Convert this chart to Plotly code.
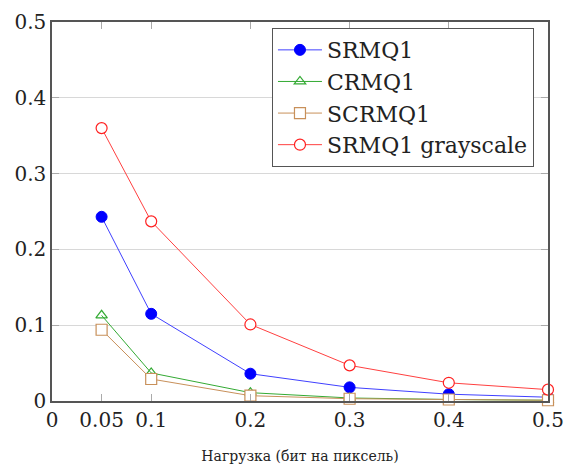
import plotly.graph_objects as go

x = [0.05, 0.1, 0.2, 0.3, 0.4, 0.5]
srmq1 = [0.243, 0.115, 0.036, 0.018, 0.009, 0.005]
crmq1 = [0.113, 0.037, 0.011, 0.004, 0.002, 0.001]
scrmq1 = [0.094, 0.029, 0.007, 0.003, 0.002, 0.001]
srmq1_gray = [0.360, 0.237, 0.101, 0.047, 0.024, 0.015]

xtick_vals = [0, 0.05, 0.1, 0.2, 0.3, 0.4, 0.5]
xtick_text = ["0", "0.05", "0.1", "0.2", "0.3", "0.4", "0.5"]
ytick_vals = [0, 0.1, 0.2, 0.3, 0.4, 0.5]
ytick_text = ["0", "0.1", "0.2", "0.3", "0.4", "0.5"]

font = "DejaVu Serif"

fig = go.Figure()
fig.add_trace(go.Scatter(x=x, y=srmq1, name="SRMQ1", mode="lines+markers",
                         line=dict(color="#4040ff", width=1),
                         marker=dict(symbol="circle", size=11, color="#0000ff",
                                     line=dict(color="#0000ff", width=1))))
fig.add_trace(go.Scatter(x=x, y=crmq1, name="CRMQ1", mode="lines+markers",
                         line=dict(color="#33aa33", width=1),
                         marker=dict(symbol="triangle-up-open", size=10, color="#33aa33",
                                     line=dict(width=1.2))))
fig.add_trace(go.Scatter(x=x, y=scrmq1, name="SCRMQ1", mode="lines+markers",
                         line=dict(color="#c8905a", width=1),
                         marker=dict(symbol="square", size=11, color="white",
                                     line=dict(color="#c8905a", width=1.2))))
fig.add_trace(go.Scatter(x=x, y=srmq1_gray, name="SRMQ1 grayscale", mode="lines+markers",
                         line=dict(color="#ff4040", width=1),
                         marker=dict(symbol="circle", size=11, color="white",
                                     line=dict(color="#ff2020", width=1.2))))
fig.update_traces(cliponaxis=False)

fig.update_layout(
    width=564, height=464,
    margin=dict(l=52, r=16, t=22, b=63),
    paper_bgcolor="white", plot_bgcolor="white",
    font=dict(family=font, size=18, color="#222"),
    showlegend=True,
    legend=dict(x=0.4435, y=0.984, xanchor="left", yanchor="top",
                bordercolor="#555", borderwidth=1, bgcolor="white",
                font=dict(family=font, size=22, color="#222"),
                tracegroupgap=0, itemwidth=44),
)
fig.update_xaxes(range=[0, 0.5], tickvals=xtick_vals, ticktext=xtick_text,
                 automargin=False,
                 showgrid=False,
                 ticks="inside", ticklen=7, tickcolor="#aaa", tickwidth=1,
                 showline=True, linecolor="#555", linewidth=1.5, mirror="ticks",
                 zeroline=False,
                 title=dict(text="Нагрузка (бит на пиксель)", font=dict(family=font, size=14, color="#222"), standoff=20),
                 tickfont=dict(family=font, size=20, color="#222"))
fig.update_yaxes(range=[0, 0.5], tickvals=ytick_vals, ticktext=ytick_text,
                 automargin=False,
                 showgrid=True, gridcolor="#d8d8d8", gridwidth=1,
                 ticks="inside", ticklen=7, tickcolor="#aaa", tickwidth=1,
                 showline=True, linecolor="#555", linewidth=1.5, mirror="ticks",
                 zeroline=False,
                 tickfont=dict(family=font, size=20, color="#222"))

fig.write_html("out.html", config={"displayModeBar": False},
               post_script="document.body.style.margin='0';document.body.style.overflow='hidden';")
